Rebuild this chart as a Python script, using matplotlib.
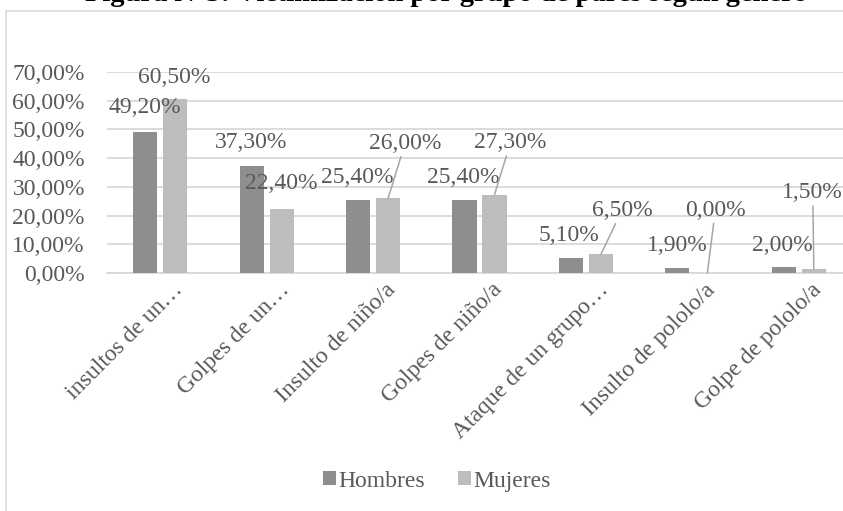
import numpy as np
import matplotlib
matplotlib.use('Agg')
from matplotlib import pyplot as plt
from matplotlib.patches import Rectangle
from matplotlib.ticker import FuncFormatter
from matplotlib.transforms import ScaledTranslation


categories = [
    'insultos de un…',
    'Golpes de un…',
    'Insulto de niño/a',
    'Golpes de niño/a',
    'Ataque de un grupo…',
    'Insulto de pololo/a',
    'Golpe de pololo/a',
]
hombres = [49.2, 37.3, 25.4, 25.4, 5.1, 1.9, 2.0]
mujeres = [60.5, 22.4, 26.0, 27.3, 6.5, 0.0, 1.5]

title = 'Figura N°5: Victimización por grupo de pares según género'

# label offsets from the bar top, in pixels
off_h = [(0, 24), (-1, 23), (-1, 23), (-1, 23), (-2, 23), (0, 22), (-1, 22)]
off_m = [(-1, 22), (0, 25), (17, 55), (16, 52), (21, 44), (8, 63), (-1, 76)]
leader_m = {2, 3, 4, 5, 6}

c_h = '#8e8e8e'
c_m = '#bdbdbd'
c_txt = '#595959'
c_grid = '#d9d9d9'

plt.rcParams['font.family'] = ['Liberation Serif', 'DejaVu Serif']

W, H = 843, 511
fig = plt.figure(figsize=(W / 100, H / 100), dpi=100)

# chart area frame (runs off the right and bottom edges)
fig.patches.append(Rectangle((5.5 / W, -0.1), 1.0, 1 - 11.5 / H + 0.1,
                             transform=fig.transFigure, fill=False,
                             ec=c_grid, lw=1.1))

# title sits mostly above the top edge
fig.text(446 / W, 1 - 1 / H, title, ha='center', va='baseline',
         fontsize=20.5, fontweight='bold', color='black')

ax = fig.add_axes([107 / W, 1 - 273 / H, 745 / W, 201 / H])

x = np.arange(len(categories))
bw = 0.226
dx = 0.141
bh = ax.bar(x - dx, hombres, bw, color=c_h, label='Hombres', zorder=3)
bm = ax.bar(x + dx, mujeres, bw, color=c_m, label='Mujeres', zorder=3)

ax.set_xlim(-0.5, len(categories) - 0.5)
ax.set_ylim(0, 70)
ax.set_yticks(np.arange(0, 71, 10))
fmt = lambda v: ('%.2f%%' % v).replace('.', ',')
ax.yaxis.set_major_formatter(FuncFormatter(lambda v, p: fmt(v)))
ax.grid(axis='y', color=c_grid, lw=1.3, zorder=0)
for s in ['top', 'right', 'left']:
    ax.spines[s].set_visible(False)
ax.spines['bottom'].set_color(c_grid)
ax.spines['bottom'].set_linewidth(1.3)
ax.tick_params(axis='y', length=0, pad=16, labelsize=17, labelcolor=c_txt)
ax.tick_params(axis='x', length=0, pad=6, labelsize=17, labelcolor=c_txt)
ax.set_xticks(x)
ax.set_xticklabels(categories, rotation=45, ha='right', rotation_mode='anchor')
shift = ScaledTranslation(12 / 100, 2 / 100, fig.dpi_scale_trans)
for lab in ax.get_xticklabels():
    lab.set_transform(lab.get_transform() + shift)

for i in range(len(categories)):
    ax.annotate(fmt(hombres[i]), xy=(x[i] - dx, hombres[i]), xytext=off_h[i],
                textcoords='offset pixels', ha='center', va='center',
                fontsize=17, color=c_txt, annotation_clip=False)
    props = None
    if i in leader_m:
        props = dict(arrowstyle='-', color='#a6a6a6', lw=1.1,
                     shrinkA=0, shrinkB=0)
    ax.annotate(fmt(mujeres[i]), xy=(x[i] + dx, mujeres[i]), xytext=off_m[i],
                textcoords='offset pixels', ha='center', va='center',
                fontsize=17, color=c_txt, arrowprops=props,
                annotation_clip=False)

fig.legend(handles=[bh, bm], loc='center', bbox_to_anchor=(437 / W, 1 - 481 / H),
           ncol=2, frameon=False, fontsize=17, labelcolor=c_txt,
           handlelength=0.55, handleheight=0.55, handletextpad=0.1,
           columnspacing=1.4)

fig.savefig('out.png', dpi=100)
